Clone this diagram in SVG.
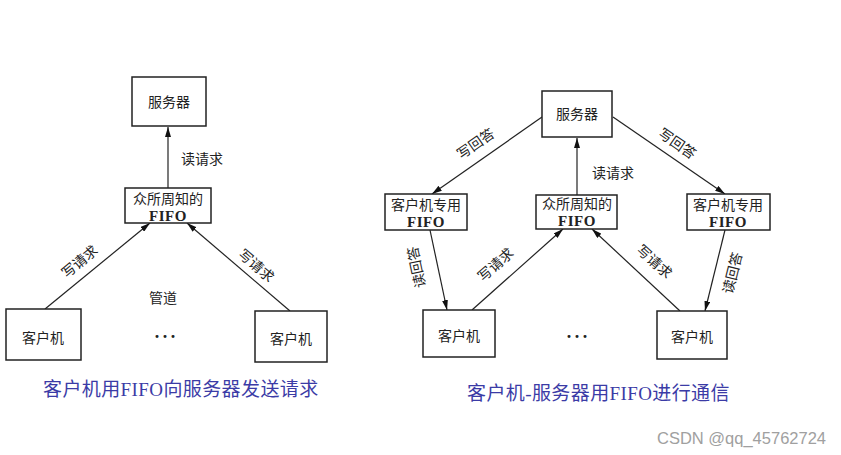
<svg xmlns="http://www.w3.org/2000/svg" width="841" height="455" viewBox="0 0 841 455">
<defs>
<style>
.box{fill:#fff;stroke:#222;stroke-width:1.5}
.ln{stroke:#222;stroke-width:1.2;fill:none;marker-end:url(#ah)}
.t{font-family:"Liberation Serif","Noto Sans CJK SC",serif;font-size:14px;fill:#222;text-anchor:middle;dominant-baseline:central}
.f{font-size:15px;font-weight:bold;letter-spacing:0.5px}
.cap{font-family:"Liberation Serif","Noto Sans CJK SC",serif;font-size:19px;letter-spacing:0.4px;fill:#3b3ba6;dominant-baseline:central}
.wm{font-family:"Liberation Sans",Arial,sans-serif;font-size:16.5px;fill:#a0a0a0;dominant-baseline:central}
.dots{font-family:"Liberation Serif",serif;font-size:18px;fill:#222;text-anchor:middle;dominant-baseline:central;font-weight:bold;letter-spacing:2px}
</style>
<marker id="ah" viewBox="0 0 10 6" refX="10" refY="3" markerWidth="10" markerHeight="6" markerUnits="userSpaceOnUse" orient="auto">
<path d="M0,0 L10,3 L0,6 Z" fill="#111"/>
</marker>
</defs>
<rect width="841" height="455" fill="#fff"/>
<g id="connectors">
<line class="ln" x1="168" y1="188" x2="168" y2="127"/>
<line class="ln" x1="45" y1="309" x2="150" y2="223"/>
<line class="ln" x1="290" y1="311" x2="187" y2="223"/>
<line class="ln" x1="577" y1="195" x2="577" y2="138"/>
<line class="ln" x1="542" y1="117" x2="432" y2="194"/>
<line class="ln" x1="613" y1="117" x2="725" y2="194"/>
<line class="ln" x1="430" y1="230" x2="447" y2="310"/>
<line class="ln" x1="725" y1="230" x2="705" y2="311"/>
<line class="ln" x1="472" y1="310" x2="563" y2="229"/>
<line class="ln" x1="680" y1="311" x2="592" y2="229"/>
</g>
<g id="labels">
<text class="t" x="202" y="159">读请求</text>
<text class="t" x="80" y="262" transform="rotate(-39.6 80 262)">写请求</text>
<text class="t" x="256" y="266" transform="rotate(40.8 256 266)">写请求</text>
<text class="t" x="163" y="298">管道</text>
<text class="dots" x="166" y="337">···</text>
<text class="t" x="613" y="173">读请求</text>
<text class="t" x="476" y="144" transform="rotate(-34.6 476 144)">写回答</text>
<text class="t" x="677" y="144" transform="rotate(34.5 677 144)">写回答</text>
<text class="t" x="417" y="267" transform="rotate(-102 417 267)">读回答</text>
<text class="t" x="733" y="273" transform="rotate(-76 733 273)">读回答</text>
<text class="t" x="496" y="265" transform="rotate(-41 496 265)">写请求</text>
<text class="t" x="654" y="262" transform="rotate(42 654 262)">写请求</text>
<text class="dots" x="578" y="337">···</text>
</g>
<g id="left-server"><rect class="box" x="132" y="77" width="74" height="49"/><text class="t" x="169" y="102">服务器</text></g>
<g id="left-fifo"><rect class="box" x="125" y="188" width="86" height="35"/><text class="t" x="168" y="199">众所周知的</text><text class="t f" x="168" y="216">FIFO</text></g>
<g id="left-client1"><rect class="box" x="6" y="309" width="75" height="51"/><text class="t" x="43" y="338">客户机</text></g>
<g id="left-client2"><rect class="box" x="255" y="311" width="72" height="51"/><text class="t" x="291" y="339">客户机</text></g>
<g id="right-server"><rect class="box" x="542" y="91" width="70" height="46"/><text class="t" x="577" y="114">服务器</text></g>
<g id="right-fifo"><rect class="box" x="536" y="195" width="81" height="34"/><text class="t" x="577" y="204">众所周知的</text><text class="t f" x="577" y="221">FIFO</text></g>
<g id="right-fifo-l"><rect class="box" x="385" y="194" width="82" height="36"/><text class="t" x="426" y="205">客户机专用</text><text class="t f" x="426" y="222">FIFO</text></g>
<g id="right-fifo-r"><rect class="box" x="687" y="194" width="83" height="36"/><text class="t" x="728" y="205">客户机专用</text><text class="t f" x="728" y="222">FIFO</text></g>
<g id="right-client1"><rect class="box" x="423" y="310" width="72" height="47"/><text class="t" x="459" y="336">客户机</text></g>
<g id="right-client2"><rect class="box" x="657" y="311" width="70" height="48"/><text class="t" x="692" y="337">客户机</text></g>
<g id="captions">
<text class="cap" x="43" y="389">客户机用FIFO向服务器发送请求</text>
<text class="cap" x="467" y="393">客户机-服务器用FIFO进行通信</text>
<text class="wm" x="657" y="438">CSDN @qq_45762724</text>
</g>
</svg>
